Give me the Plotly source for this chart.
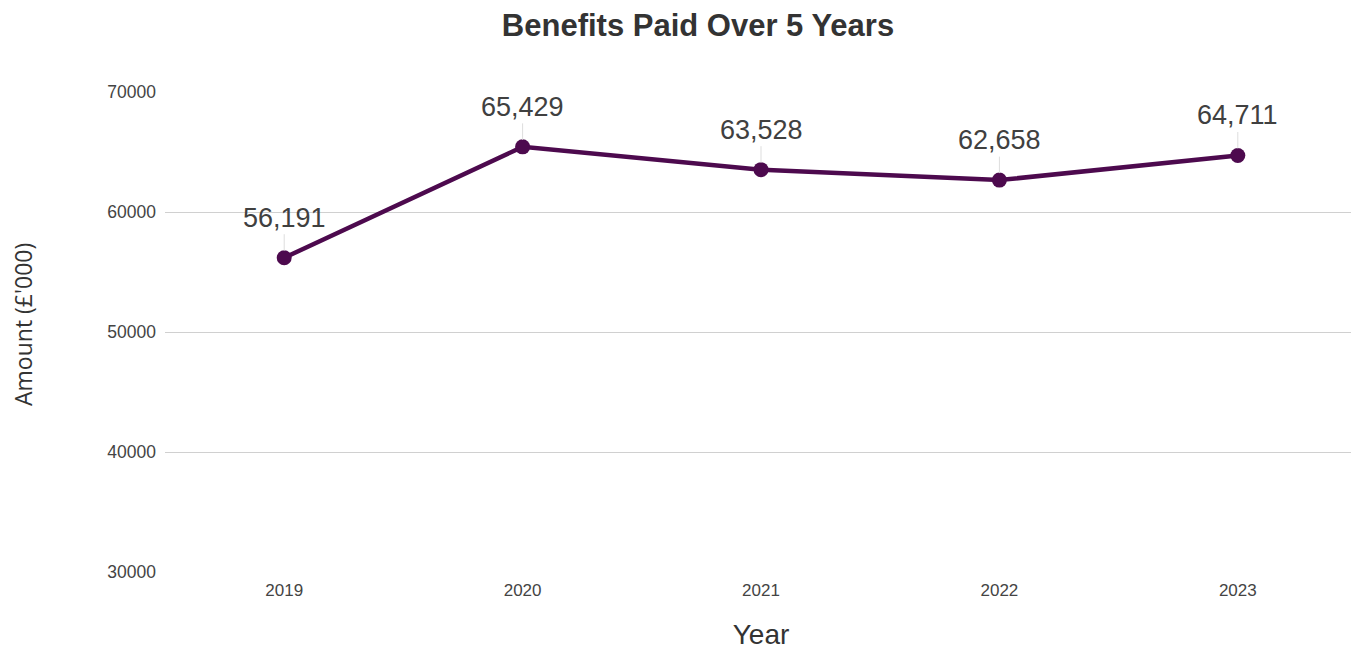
import plotly.graph_objects as go

years = ["2019", "2020", "2021", "2022", "2023"]
amounts = [56191, 65429, 63528, 62658, 64711]
y_ticks = [30000, 40000, 50000, 60000, 70000]

line_color = "#4d0a4e"
text_color = "#333333"
label_color = "#404040"
FONT = "Liberation Sans, Arial, sans-serif"

fig = go.Figure()
fig.add_trace(go.Scatter(
    x=years, y=amounts, mode="lines+markers",
    line=dict(color=line_color, width=4.5),
    marker=dict(color=line_color, size=15),
    hoverinfo="x+y", showlegend=False,
))

for i, v in enumerate(amounts):
    fig.add_annotation(
        x=i, y=v, text=f"{v:,}", showarrow=True, arrowhead=0,
        arrowwidth=1, arrowcolor="#dddddd", ax=0, ay=-40, standoff=7,
        font=dict(family=FONT, size=27, color=label_color),
    )

# y-axis title placed as a rotated annotation
fig.add_annotation(
    text="Amount (£'000)", textangle=-90, showarrow=False,
    xref="paper", yref="paper", x=0, y=(572 - 325) / 480,
    xanchor="center", yanchor="middle", xshift=-142, borderpad=0,
    font=dict(size=23, color=text_color, family="Open Sans, sans-serif"),
)

fig.update_layout(
    width=1359, height=649,
    margin=dict(l=157, r=10, t=84, b=85),
    paper_bgcolor="white", plot_bgcolor="white",
    font=dict(family=FONT, color=text_color),
    title=dict(
        text="<b>Benefits Paid Over 5 Years</b>",
        x=690 / 1359, xref="container", xanchor="center",
        y=1 - 17 / 649, yref="container", yanchor="middle",
        font=dict(size=31, color=text_color, family=FONT),
    ),
    xaxis=dict(
        type="category", range=[-0.5, 4.5],
        showgrid=False, zeroline=False, showline=False, ticks="",
        tickfont=dict(size=17, color="#444444"),
        ticklabelstandoff=6,
        title=dict(text="Year", font=dict(size=28, color=text_color), standoff=25),
    ),
    yaxis=dict(
        range=[30000, 70000], tickvals=y_ticks,
        ticktext=[str(t) for t in y_ticks],
        showgrid=True, gridcolor="#d0d0d0", gridwidth=1,
        zeroline=False, showline=False, ticks="",
        tickfont=dict(size=17.5, color="#444444"),
        ticklabelstandoff=8,
    ),
)

fig.write_html("out.html")
